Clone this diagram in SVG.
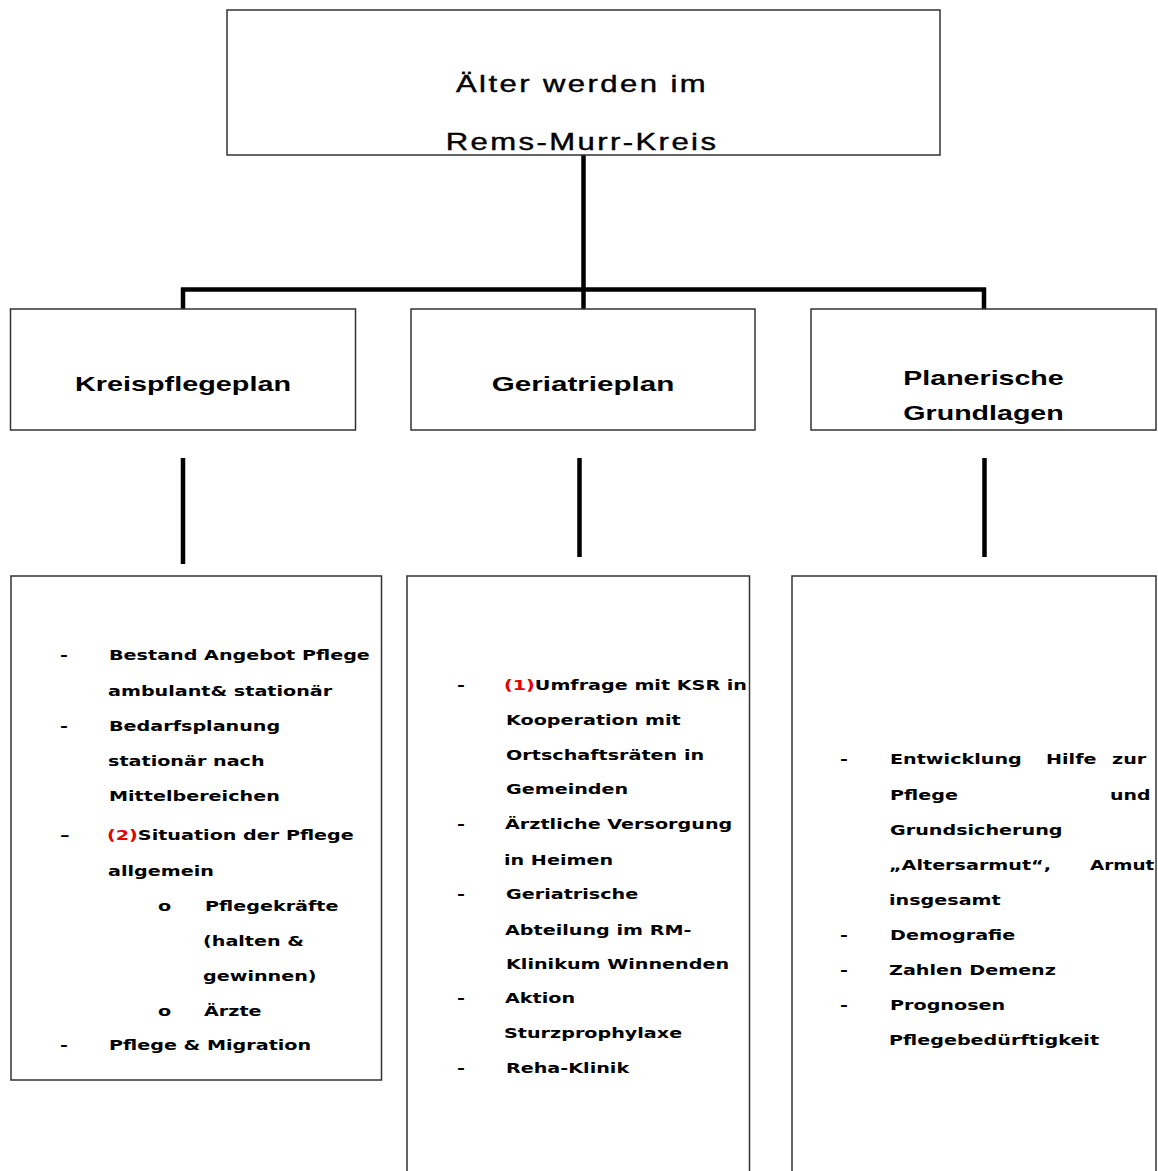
<svg xmlns="http://www.w3.org/2000/svg" width="1158" height="1171" viewBox="0 0 1158 1171">
<style>
.box{fill:#fff;stroke:#333;stroke-width:1.5}
.con{stroke:#000;stroke-width:4.5;fill:none;stroke-linecap:butt}
.title{font-family:"Liberation Sans",Arial,sans-serif;font-size:23px;letter-spacing:1.8px;fill:#000;stroke:#000;stroke-width:0.4;text-anchor:middle}
.head{font-family:"Liberation Sans",Arial,sans-serif;font-size:20px;font-weight:bold;fill:#000;text-anchor:middle}
.t{font-family:"DejaVu Sans",Verdana,sans-serif;font-size:13.5px;font-weight:bold;fill:#000}
.red{fill:#e60000}
</style>
<rect width="1158" height="1171" fill="#fff"/>
<g id="connectors">
<path class="con" d="M583.5,155 V290 M181,289.5 H986 M183,287.5 V309 M583.5,289.5 V309 M984,287.5 V309"/>
<path class="con" d="M183,458 V564 M579.5,458 V557 M984.5,458 V557"/>
</g>
<g id="root">
<rect class="box" x="227" y="10" width="713" height="145"/>
<text class="title" transform="translate(582 92) scale(1.35 1)">Älter werden im</text>
<text class="title" transform="translate(582 150) scale(1.35 1)">Rems-Murr-Kreis</text>
</g>
<g id="kreispflegeplan">
<rect class="box" x="10.5" y="309" width="345" height="121"/>
<text class="head" transform="translate(183 391) scale(1.44 1)">Kreispflegeplan</text>
</g>
<g id="geriatrieplan">
<rect class="box" x="411" y="309" width="344" height="121"/>
<text class="head" transform="translate(583 391) scale(1.48 1)">Geriatrieplan</text>
</g>
<g id="planerische">
<rect class="box" x="811" y="309" width="345" height="121"/>
<text class="head" transform="translate(983.5 385) scale(1.43 1)">Planerische</text>
<text class="head" transform="translate(983.5 420) scale(1.43 1)">Grundlagen</text>
</g>
<g id="kreispflegeplan-details">
<rect class="box" x="11" y="576" width="370.5" height="504"/>
<text class="t" transform="translate(60 660) scale(1.42 1)">-</text>
<text class="t" transform="translate(109 660) scale(1.42 1)">Bestand Angebot Pflege</text>
<text class="t" transform="translate(108 696) scale(1.42 1)">ambulant&amp; stationär</text>
<text class="t" transform="translate(60 731) scale(1.42 1)">-</text>
<text class="t" transform="translate(109 731) scale(1.42 1)">Bedarfsplanung</text>
<text class="t" transform="translate(108 766) scale(1.42 1)">stationär nach</text>
<text class="t" transform="translate(109 801) scale(1.42 1)">Mittelbereichen</text>
<text class="t" transform="translate(60 840) scale(1.42 1)">–</text>
<text class="t" transform="translate(107 840) scale(1.42 1)"><tspan class="red">(2)</tspan>Situation der Pflege</text>
<text class="t" transform="translate(108 876) scale(1.42 1)">allgemein</text>
<text class="t" transform="translate(158 911) scale(1.42 1)">o</text>
<text class="t" transform="translate(205 911) scale(1.42 1)">Pflegekräfte</text>
<text class="t" transform="translate(203 946) scale(1.42 1)">(halten  &amp;</text>
<text class="t" transform="translate(203 981) scale(1.42 1)">gewinnen)</text>
<text class="t" transform="translate(158 1016) scale(1.42 1)">o</text>
<text class="t" transform="translate(204 1016) scale(1.42 1)">Ärzte</text>
<text class="t" transform="translate(60 1050) scale(1.42 1)">-</text>
<text class="t" transform="translate(109 1050) scale(1.42 1)">Pflege &amp; Migration</text>
</g>
<g id="geriatrieplan-details">
<rect class="box" x="407" y="576" width="342.5" height="600"/>
<text class="t" transform="translate(457 690) scale(1.42 1)">-</text>
<text class="t" transform="translate(504 690) scale(1.42 1)"><tspan class="red">(1)</tspan>Umfrage mit KSR in</text>
<text class="t" transform="translate(506 725) scale(1.42 1)">Kooperation mit</text>
<text class="t" transform="translate(506 760) scale(1.42 1)">Ortschaftsräten in</text>
<text class="t" transform="translate(506 794) scale(1.42 1)">Gemeinden</text>
<text class="t" transform="translate(457 829) scale(1.42 1)">-</text>
<text class="t" transform="translate(505 829) scale(1.42 1)">Ärztliche Versorgung</text>
<text class="t" transform="translate(504 865) scale(1.42 1)">in Heimen</text>
<text class="t" transform="translate(457 899) scale(1.42 1)">-</text>
<text class="t" transform="translate(506 899) scale(1.42 1)">Geriatrische</text>
<text class="t" transform="translate(505 935) scale(1.42 1)">Abteilung im RM-</text>
<text class="t" transform="translate(506 969) scale(1.42 1)">Klinikum  Winnenden</text>
<text class="t" transform="translate(457 1003) scale(1.42 1)">-</text>
<text class="t" transform="translate(505 1003) scale(1.42 1)">Aktion</text>
<text class="t" transform="translate(504 1038) scale(1.42 1)">Sturzprophylaxe</text>
<text class="t" transform="translate(457 1073) scale(1.42 1)">-</text>
<text class="t" transform="translate(506 1073) scale(1.42 1)">Reha-Klinik</text>
</g>
<g id="planerische-details">
<rect class="box" x="792" y="576" width="364" height="600"/>
<text class="t" transform="translate(840 764) scale(1.42 1)">-</text>
<text class="t" transform="translate(890 764) scale(1.42 1)">Entwicklung</text>
<text class="t" transform="translate(1046 764) scale(1.42 1)">Hilfe</text>
<text class="t" transform="translate(1112 764) scale(1.42 1)">zur</text>
<text class="t" transform="translate(890 800) scale(1.42 1)">Pflege</text>
<text class="t" transform="translate(1110 800) scale(1.4 1)">und</text>
<text class="t" transform="translate(890 835) scale(1.42 1)">Grundsicherung</text>
<text class="t" transform="translate(889 870) scale(1.42 1)">„Altersarmut“,</text>
<text class="t" transform="translate(1090 870) scale(1.36 1)">Armut</text>
<text class="t" transform="translate(889 905) scale(1.42 1)">insgesamt</text>
<text class="t" transform="translate(840 940) scale(1.42 1)">-</text>
<text class="t" transform="translate(890 940) scale(1.42 1)">Demografie</text>
<text class="t" transform="translate(840 975) scale(1.42 1)">-</text>
<text class="t" transform="translate(889 975) scale(1.42 1)">Zahlen Demenz</text>
<text class="t" transform="translate(840 1010) scale(1.42 1)">-</text>
<text class="t" transform="translate(890 1010) scale(1.42 1)">Prognosen</text>
<text class="t" transform="translate(889 1045) scale(1.42 1)">Pflegebedürftigkeit</text>
</g>
</svg>
